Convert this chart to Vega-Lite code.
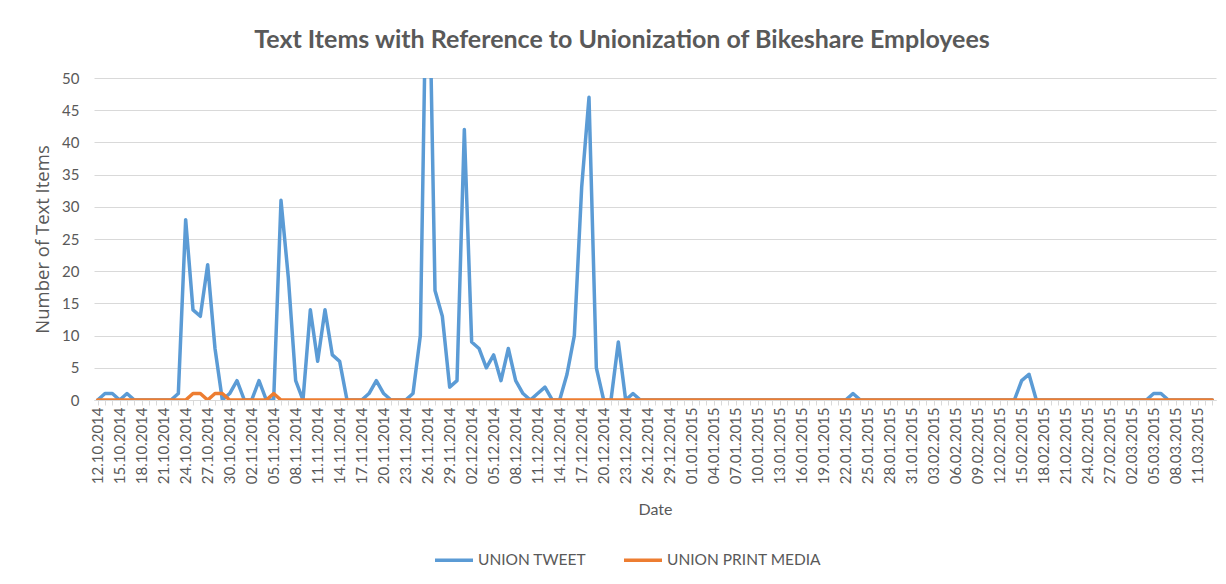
{
  "$schema": "https://vega.github.io/schema/vega-lite/v6.json",
  "autosize": {"type": "none"},
  "width": 1122,
  "height": 322,
  "padding": {"left": 94, "top": 78, "right": 10, "bottom": 184},
  "background": "white",
  "title": {
    "text": "Text Items with Reference to Unionization of Bikeshare Employees",
    "font": "Lato",
    "fontSize": 25,
    "fontWeight": "bold",
    "color": "#595959",
    "anchor": "middle",
    "dx": -33,
    "offset": 18
  },
  "data": {
    "values": [
      {"date": "12.10.2014", "tweet": 0, "print": 0},
      {"date": "13.10.2014", "tweet": 1, "print": 0},
      {"date": "14.10.2014", "tweet": 1, "print": 0},
      {"date": "15.10.2014", "tweet": 0, "print": 0},
      {"date": "16.10.2014", "tweet": 1, "print": 0},
      {"date": "17.10.2014", "tweet": 0, "print": 0},
      {"date": "18.10.2014", "tweet": 0, "print": 0},
      {"date": "19.10.2014", "tweet": 0, "print": 0},
      {"date": "20.10.2014", "tweet": 0, "print": 0},
      {"date": "21.10.2014", "tweet": 0, "print": 0},
      {"date": "22.10.2014", "tweet": 0, "print": 0},
      {"date": "23.10.2014", "tweet": 1, "print": 0},
      {"date": "24.10.2014", "tweet": 28, "print": 0},
      {"date": "25.10.2014", "tweet": 14, "print": 1},
      {"date": "26.10.2014", "tweet": 13, "print": 1},
      {"date": "27.10.2014", "tweet": 21, "print": 0},
      {"date": "28.10.2014", "tweet": 8, "print": 1},
      {"date": "29.10.2014", "tweet": 0, "print": 1},
      {"date": "30.10.2014", "tweet": 1, "print": 0},
      {"date": "31.10.2014", "tweet": 3, "print": 0},
      {"date": "01.11.2014", "tweet": 0, "print": 0},
      {"date": "02.11.2014", "tweet": 0, "print": 0},
      {"date": "03.11.2014", "tweet": 3, "print": 0},
      {"date": "04.11.2014", "tweet": 0, "print": 0},
      {"date": "05.11.2014", "tweet": 0, "print": 1},
      {"date": "06.11.2014", "tweet": 31, "print": 0},
      {"date": "07.11.2014", "tweet": 19, "print": 0},
      {"date": "08.11.2014", "tweet": 3, "print": 0},
      {"date": "09.11.2014", "tweet": 0, "print": 0},
      {"date": "10.11.2014", "tweet": 14, "print": 0},
      {"date": "11.11.2014", "tweet": 6, "print": 0},
      {"date": "12.11.2014", "tweet": 14, "print": 0},
      {"date": "13.11.2014", "tweet": 7, "print": 0},
      {"date": "14.11.2014", "tweet": 6, "print": 0},
      {"date": "15.11.2014", "tweet": 0, "print": 0},
      {"date": "16.11.2014", "tweet": 0, "print": 0},
      {"date": "17.11.2014", "tweet": 0, "print": 0},
      {"date": "18.11.2014", "tweet": 1, "print": 0},
      {"date": "19.11.2014", "tweet": 3, "print": 0},
      {"date": "20.11.2014", "tweet": 1, "print": 0},
      {"date": "21.11.2014", "tweet": 0, "print": 0},
      {"date": "22.11.2014", "tweet": 0, "print": 0},
      {"date": "23.11.2014", "tweet": 0, "print": 0},
      {"date": "24.11.2014", "tweet": 1, "print": 0},
      {"date": "25.11.2014", "tweet": 10, "print": 0},
      {"date": "26.11.2014", "tweet": 80, "print": 0},
      {"date": "27.11.2014", "tweet": 17, "print": 0},
      {"date": "28.11.2014", "tweet": 13, "print": 0},
      {"date": "29.11.2014", "tweet": 2, "print": 0},
      {"date": "30.11.2014", "tweet": 3, "print": 0},
      {"date": "01.12.2014", "tweet": 42, "print": 0},
      {"date": "02.12.2014", "tweet": 9, "print": 0},
      {"date": "03.12.2014", "tweet": 8, "print": 0},
      {"date": "04.12.2014", "tweet": 5, "print": 0},
      {"date": "05.12.2014", "tweet": 7, "print": 0},
      {"date": "06.12.2014", "tweet": 3, "print": 0},
      {"date": "07.12.2014", "tweet": 8, "print": 0},
      {"date": "08.12.2014", "tweet": 3, "print": 0},
      {"date": "09.12.2014", "tweet": 1, "print": 0},
      {"date": "10.12.2014", "tweet": 0, "print": 0},
      {"date": "11.12.2014", "tweet": 1, "print": 0},
      {"date": "12.12.2014", "tweet": 2, "print": 0},
      {"date": "13.12.2014", "tweet": 0, "print": 0},
      {"date": "14.12.2014", "tweet": 0, "print": 0},
      {"date": "15.12.2014", "tweet": 4, "print": 0},
      {"date": "16.12.2014", "tweet": 10, "print": 0},
      {"date": "17.12.2014", "tweet": 33, "print": 0},
      {"date": "18.12.2014", "tweet": 47, "print": 0},
      {"date": "19.12.2014", "tweet": 5, "print": 0},
      {"date": "20.12.2014", "tweet": 0, "print": 0},
      {"date": "21.12.2014", "tweet": 0, "print": 0},
      {"date": "22.12.2014", "tweet": 9, "print": 0},
      {"date": "23.12.2014", "tweet": 0, "print": 0},
      {"date": "24.12.2014", "tweet": 1, "print": 0},
      {"date": "25.12.2014", "tweet": 0, "print": 0},
      {"date": "26.12.2014", "tweet": 0, "print": 0},
      {"date": "27.12.2014", "tweet": 0, "print": 0},
      {"date": "28.12.2014", "tweet": 0, "print": 0},
      {"date": "29.12.2014", "tweet": 0, "print": 0},
      {"date": "30.12.2014", "tweet": 0, "print": 0},
      {"date": "31.12.2014", "tweet": 0, "print": 0},
      {"date": "01.01.2015", "tweet": 0, "print": 0},
      {"date": "02.01.2015", "tweet": 0, "print": 0},
      {"date": "03.01.2015", "tweet": 0, "print": 0},
      {"date": "04.01.2015", "tweet": 0, "print": 0},
      {"date": "05.01.2015", "tweet": 0, "print": 0},
      {"date": "06.01.2015", "tweet": 0, "print": 0},
      {"date": "07.01.2015", "tweet": 0, "print": 0},
      {"date": "08.01.2015", "tweet": 0, "print": 0},
      {"date": "09.01.2015", "tweet": 0, "print": 0},
      {"date": "10.01.2015", "tweet": 0, "print": 0},
      {"date": "11.01.2015", "tweet": 0, "print": 0},
      {"date": "12.01.2015", "tweet": 0, "print": 0},
      {"date": "13.01.2015", "tweet": 0, "print": 0},
      {"date": "14.01.2015", "tweet": 0, "print": 0},
      {"date": "15.01.2015", "tweet": 0, "print": 0},
      {"date": "16.01.2015", "tweet": 0, "print": 0},
      {"date": "17.01.2015", "tweet": 0, "print": 0},
      {"date": "18.01.2015", "tweet": 0, "print": 0},
      {"date": "19.01.2015", "tweet": 0, "print": 0},
      {"date": "20.01.2015", "tweet": 0, "print": 0},
      {"date": "21.01.2015", "tweet": 0, "print": 0},
      {"date": "22.01.2015", "tweet": 0, "print": 0},
      {"date": "23.01.2015", "tweet": 1, "print": 0},
      {"date": "24.01.2015", "tweet": 0, "print": 0},
      {"date": "25.01.2015", "tweet": 0, "print": 0},
      {"date": "26.01.2015", "tweet": 0, "print": 0},
      {"date": "27.01.2015", "tweet": 0, "print": 0},
      {"date": "28.01.2015", "tweet": 0, "print": 0},
      {"date": "29.01.2015", "tweet": 0, "print": 0},
      {"date": "30.01.2015", "tweet": 0, "print": 0},
      {"date": "31.01.2015", "tweet": 0, "print": 0},
      {"date": "01.02.2015", "tweet": 0, "print": 0},
      {"date": "02.02.2015", "tweet": 0, "print": 0},
      {"date": "03.02.2015", "tweet": 0, "print": 0},
      {"date": "04.02.2015", "tweet": 0, "print": 0},
      {"date": "05.02.2015", "tweet": 0, "print": 0},
      {"date": "06.02.2015", "tweet": 0, "print": 0},
      {"date": "07.02.2015", "tweet": 0, "print": 0},
      {"date": "08.02.2015", "tweet": 0, "print": 0},
      {"date": "09.02.2015", "tweet": 0, "print": 0},
      {"date": "10.02.2015", "tweet": 0, "print": 0},
      {"date": "11.02.2015", "tweet": 0, "print": 0},
      {"date": "12.02.2015", "tweet": 0, "print": 0},
      {"date": "13.02.2015", "tweet": 0, "print": 0},
      {"date": "14.02.2015", "tweet": 0, "print": 0},
      {"date": "15.02.2015", "tweet": 3, "print": 0},
      {"date": "16.02.2015", "tweet": 4, "print": 0},
      {"date": "17.02.2015", "tweet": 0, "print": 0},
      {"date": "18.02.2015", "tweet": 0, "print": 0},
      {"date": "19.02.2015", "tweet": 0, "print": 0},
      {"date": "20.02.2015", "tweet": 0, "print": 0},
      {"date": "21.02.2015", "tweet": 0, "print": 0},
      {"date": "22.02.2015", "tweet": 0, "print": 0},
      {"date": "23.02.2015", "tweet": 0, "print": 0},
      {"date": "24.02.2015", "tweet": 0, "print": 0},
      {"date": "25.02.2015", "tweet": 0, "print": 0},
      {"date": "26.02.2015", "tweet": 0, "print": 0},
      {"date": "27.02.2015", "tweet": 0, "print": 0},
      {"date": "28.02.2015", "tweet": 0, "print": 0},
      {"date": "01.03.2015", "tweet": 0, "print": 0},
      {"date": "02.03.2015", "tweet": 0, "print": 0},
      {"date": "03.03.2015", "tweet": 0, "print": 0},
      {"date": "04.03.2015", "tweet": 0, "print": 0},
      {"date": "05.03.2015", "tweet": 1, "print": 0},
      {"date": "06.03.2015", "tweet": 1, "print": 0},
      {"date": "07.03.2015", "tweet": 0, "print": 0},
      {"date": "08.03.2015", "tweet": 0, "print": 0},
      {"date": "09.03.2015", "tweet": 0, "print": 0},
      {"date": "10.03.2015", "tweet": 0, "print": 0},
      {"date": "11.03.2015", "tweet": 0, "print": 0},
      {"date": "12.03.2015", "tweet": 0, "print": 0},
      {"date": "13.03.2015", "tweet": 0, "print": 0}
    ]
  },
  "encoding": {
    "x": {
      "field": "date",
      "type": "ordinal",
      "sort": null,
      "scale": {"type": "point", "padding": 0.5},
      "axis": {
        "title": "Date",
        "titleFont": "Lato",
        "titleFontSize": 16,
        "titleFontWeight": "normal",
        "titleColor": "#595959",
        "titlePadding": 18,
        "labelFont": "Lato",
        "labelFontSize": 15,
        "labelColor": "#595959",
        "labelAngle": -90,
        "labelPadding": 2,
        "labelOverlap": false,
        "labelExpr": "round((datetime(toNumber(substring(datum.value,6,10)), toNumber(substring(datum.value,3,5))-1, toNumber(substring(datum.value,0,2))) - datetime(2014,9,12)) / 86400000) % 3 == 0 ? datum.value : ''",
        "domainColor": "#D9D9D9",
        "tickColor": "#D9D9D9",
        "tickSize": 5,
        "grid": false
      }
    }
  },
  "layer": [
    {
      "mark": {"type": "line", "clip": true, "strokeWidth": 3.5, "strokeCap": "round", "strokeJoin": "round"},
      "encoding": {
        "y": {
          "field": "tweet",
          "type": "quantitative",
          "scale": {"domain": [0, 50], "nice": false},
          "axis": {
            "title": "Number of Text Items",
            "titleFont": "Open Sans",
            "titleFontSize": 18.5,
            "titleFontWeight": "normal",
            "titleColor": "#595959",
            "titlePadding": 9,
            "values": [0, 5, 10, 15, 20, 25, 30, 35, 40, 45, 50],
            "labelFont": "Lato",
            "labelFontSize": 15,
            "labelColor": "#595959",
            "labelPadding": 15,
            "labelOverlap": false,
            "ticks": false,
            "domain": false,
            "grid": true,
            "gridColor": "#D9D9D9",
            "gridWidth": 1
          }
        },
        "color": {"datum": "UNION TWEET"}
      }
    },
    {
      "mark": {"type": "line", "clip": true, "strokeWidth": 3.5, "strokeCap": "round", "strokeJoin": "round"},
      "encoding": {
        "y": {
          "field": "print",
          "type": "quantitative",
          "axis": {
            "title": "Number of Text Items",
            "titleFont": "Open Sans",
            "titleFontSize": 18.5,
            "titleFontWeight": "normal",
            "titleColor": "#595959",
            "titlePadding": 9,
            "values": [0, 5, 10, 15, 20, 25, 30, 35, 40, 45, 50],
            "labelFont": "Lato",
            "labelFontSize": 15,
            "labelColor": "#595959",
            "labelPadding": 15,
            "labelOverlap": false,
            "ticks": false,
            "domain": false,
            "grid": true,
            "gridColor": "#D9D9D9",
            "gridWidth": 1
          }
        },
        "color": {"datum": "UNION PRINT MEDIA"}
      }
    }
  ],
  "resolve": {"scale": {"color": "shared"}},
  "config": {
    "view": {"stroke": null},
    "range": {"category": ["#5B9BD5", "#ED7D31"]},
    "legend": {
      "orient": "none",
      "legendX": 339,
      "legendY": 461,
      "direction": "horizontal",
      "title": null,
      "symbolType": "stroke",
      "symbolSize": 1444,
      "symbolStrokeWidth": 3.5,
      "labelFont": "Lato",
      "labelFontSize": 15.5,
      "labelColor": "#595959",
      "labelOffset": 3,
      "columnPadding": 30
    }
  }
}
